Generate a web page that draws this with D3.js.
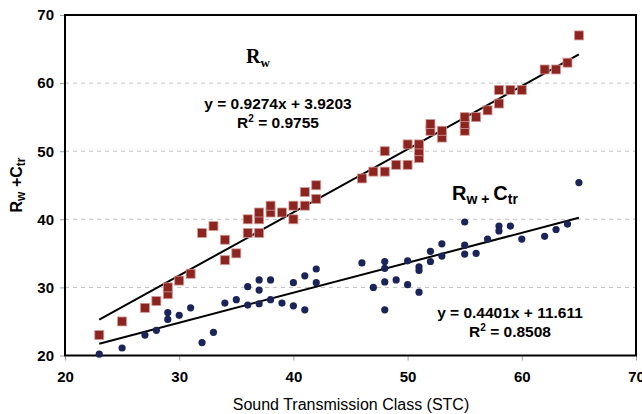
<!DOCTYPE html>
<html>
<head>
<meta charset="utf-8">
<script src="https://cdn.jsdelivr.net/npm/d3@7"></script>
<style>
  body { margin: 0; background: #fff; }
  svg { display: block; }
</style>
</head>
<body>
<div id="chart"></div>
<script>
// Rw points (STC, Rw)
var rwStc = [23, 25, 27, 28, 29, 29, 30, 31, 32, 33, 34, 34, 35, 36, 36, 37, 37, 37, 38, 38, 39, 40, 40, 41, 41, 42, 42,
             46, 47, 48, 48, 49, 50, 50, 51, 51, 51, 52, 52, 53, 53, 55, 55, 55, 56, 57, 58, 58, 59, 60, 62, 63, 64, 65];
var rwVal = [23, 25, 27, 28, 29, 30, 31, 32, 38, 39, 34, 37, 35, 38, 40, 38, 40, 41, 41, 42, 41, 40, 42, 42, 44, 43, 45,
             46, 47, 47, 50, 48, 48, 51, 49, 50, 51, 53, 54, 52, 53, 53, 54, 55, 55, 56, 57, 59, 59, 59, 62, 62, 63, 67];

// Rw + Ctr points (STC, Rw+Ctr)
var ctrStc = [23, 25, 27, 28, 29, 29, 30, 31, 32, 33, 34, 35, 36, 36, 37, 37, 37, 38, 38, 39, 40, 40, 41, 41, 42, 42,
              46, 47, 48, 48, 48, 48, 49, 50, 50, 51, 51, 51, 52, 52, 53, 53, 55, 55, 55, 56, 57, 58, 58, 59, 60, 62, 63, 64, 65];
var ctrVal = [20.2, 21.1, 23, 23.7, 26.3, 25.3, 25.9, 27, 21.9, 23.4, 27.7, 28.2, 30.1, 27.4, 31.1, 29.6, 27.6, 31.1, 28.2, 27.7, 30.7, 27.3, 31.7, 26.7, 32.7, 30.7,
              33.6, 30.0, 33.8, 32.8, 30.8, 26.7, 31.1, 33.9, 30.4, 33.0, 32.5, 29.3, 35.3, 33.8, 36.4, 34.6, 39.6, 36.2, 34.9, 35.0, 37.1, 39.0, 38.3, 39.0, 37.1, 37.5, 38.5, 39.3, 45.4];

// trend lines: slope, intercept
var rwFit = [0.9274, 3.9203];
var ctrFit = [0.4401, 11.611];
var fitRange = [23, 65];

var xTicks = [20, 30, 40, 50, 60, 70];
var yTicks = [20, 30, 40, 50, 60, 70];

var W = 642, H = 414;
var mLeft = 65, mRight = 636, mTop = 15, mBottom = 355.5;

var svg = d3.select('#chart').append('svg')
    .attr('width', W)
    .attr('height', H)
    .style('font-family', 'Arial, "Liberation Sans", sans-serif');

var x = d3.scaleLinear().domain([20, 70]).range([mLeft, mRight]);
var y = d3.scaleLinear().domain([20, 70]).range([mBottom, mTop]);

// dashed gridlines
svg.append('g').selectAll('line')
    .data(yTicks.slice(1, -1))
    .enter().append('line')
    .attr('x1', mLeft).attr('x2', mRight)
    .attr('y1', d => y(d)).attr('y2', d => y(d))
    .attr('stroke', '#c0c0c0')
    .attr('stroke-dasharray', '4,4');

// axes (tick marks outside, grey)
var xAxis = svg.append('g')
    .attr('transform', 'translate(0,' + mBottom + ')')
    .call(d3.axisBottom(x).tickValues(xTicks).tickSize(5).tickPadding(11));
var yAxis = svg.append('g')
    .attr('transform', 'translate(' + mLeft + ',0)')
    .call(d3.axisLeft(y).tickValues(yTicks).tickSize(5).tickPadding(6));

[xAxis, yAxis].forEach(function(a) {
    a.select('.domain').remove();
    a.selectAll('line').attr('stroke', '#a0a0a0');
    a.selectAll('text')
        .attr('fill', '#000')
        .style('font-size', '15px')
        .style('font-weight', 'bold');
});

// frame
svg.append('rect')
    .attr('x', mLeft).attr('y', mTop)
    .attr('width', mRight - mLeft).attr('height', mBottom - mTop)
    .attr('fill', 'none')
    .attr('stroke', '#000')
    .attr('stroke-width', 2);

// trend lines
function fitLine(fit) {
    return fitRange.map(v => [x(v), y(fit[0] * v + fit[1])]);
}
svg.append('path')
    .attr('d', d3.line()(fitLine(rwFit)))
    .attr('stroke', '#000').attr('stroke-width', 2).attr('fill', 'none');
svg.append('path')
    .attr('d', d3.line()(fitLine(ctrFit)))
    .attr('stroke', '#000').attr('stroke-width', 2).attr('fill', 'none');

// Rw squares
var sq = 9;
svg.append('g').selectAll('rect')
    .data(rwStc.map((s, i) => [s, rwVal[i]]))
    .enter().append('rect')
    .attr('x', d => x(d[0]) - sq / 2)
    .attr('y', d => y(d[1]) - sq / 2)
    .attr('width', sq).attr('height', sq)
    .attr('fill', '#8c2420')
    .attr('stroke', '#d49a96')
    .attr('stroke-width', 0.8);

// Rw + Ctr dots
svg.append('g').selectAll('circle')
    .data(ctrStc.map((s, i) => [s, ctrVal[i]]))
    .enter().append('circle')
    .attr('cx', d => x(d[0]))
    .attr('cy', d => y(d[1]))
    .attr('r', 3.6)
    .attr('fill', '#1b2459');

// series labels
var t1 = svg.append('text')
    .attr('x', 246).attr('y', 63)
    .style('font-family', '"Liberation Serif", "Times New Roman", serif')
    .style('font-weight', 'bold')
    .style('font-size', '20px');
t1.append('tspan').text('R');
t1.append('tspan').attr('dy', 4).style('font-size', '13px').text('w');

var t2 = svg.append('text')
    .attr('x', 452).attr('y', 200)
    .style('font-weight', 'bold')
    .style('font-size', '20px');
t2.append('tspan').text('R');
t2.append('tspan').attr('dy', 4).style('font-size', '14px').text('w + ');
t2.append('tspan').attr('dy', -4).text('C');
t2.append('tspan').attr('dy', 4).style('font-size', '14px').text('tr');

// equations
function eq(xc, yb, txt, r2) {
    svg.append('text')
        .attr('x', xc).attr('y', yb)
        .attr('text-anchor', 'middle')
        .style('font-weight', 'bold').style('font-size', '15.5px')
        .text(txt);
    var r = svg.append('text')
        .attr('x', xc).attr('y', yb + 19)
        .attr('text-anchor', 'middle')
        .style('font-weight', 'bold').style('font-size', '15.5px');
    r.append('tspan').text('R');
    r.append('tspan').attr('dy', -6).style('font-size', '10px').text('2');
    r.append('tspan').attr('dy', 6).text(' = ' + r2);
}
eq(278, 109, 'y = 0.9274x + 3.9203', '0.9755');
eq(510, 318, 'y = 0.4401x + 11.611', '0.8508');

// axis titles
svg.append('text')
    .attr('x', 351).attr('y', 410)
    .attr('text-anchor', 'middle')
    .style('font-size', '16px')
    .text('Sound Transmission Class (STC)');

var yt = svg.append('text')
    .attr('transform', 'translate(22,185) rotate(-90)')
    .attr('text-anchor', 'middle')
    .style('font-weight', 'bold')
    .style('font-size', '16px');
yt.append('tspan').text('R');
yt.append('tspan').attr('dy', 3).style('font-size', '12px').text('w');
yt.append('tspan').attr('dy', -3).text(' +C');
yt.append('tspan').attr('dy', 3).style('font-size', '12px').text('tr');
</script>
</body>
</html>
